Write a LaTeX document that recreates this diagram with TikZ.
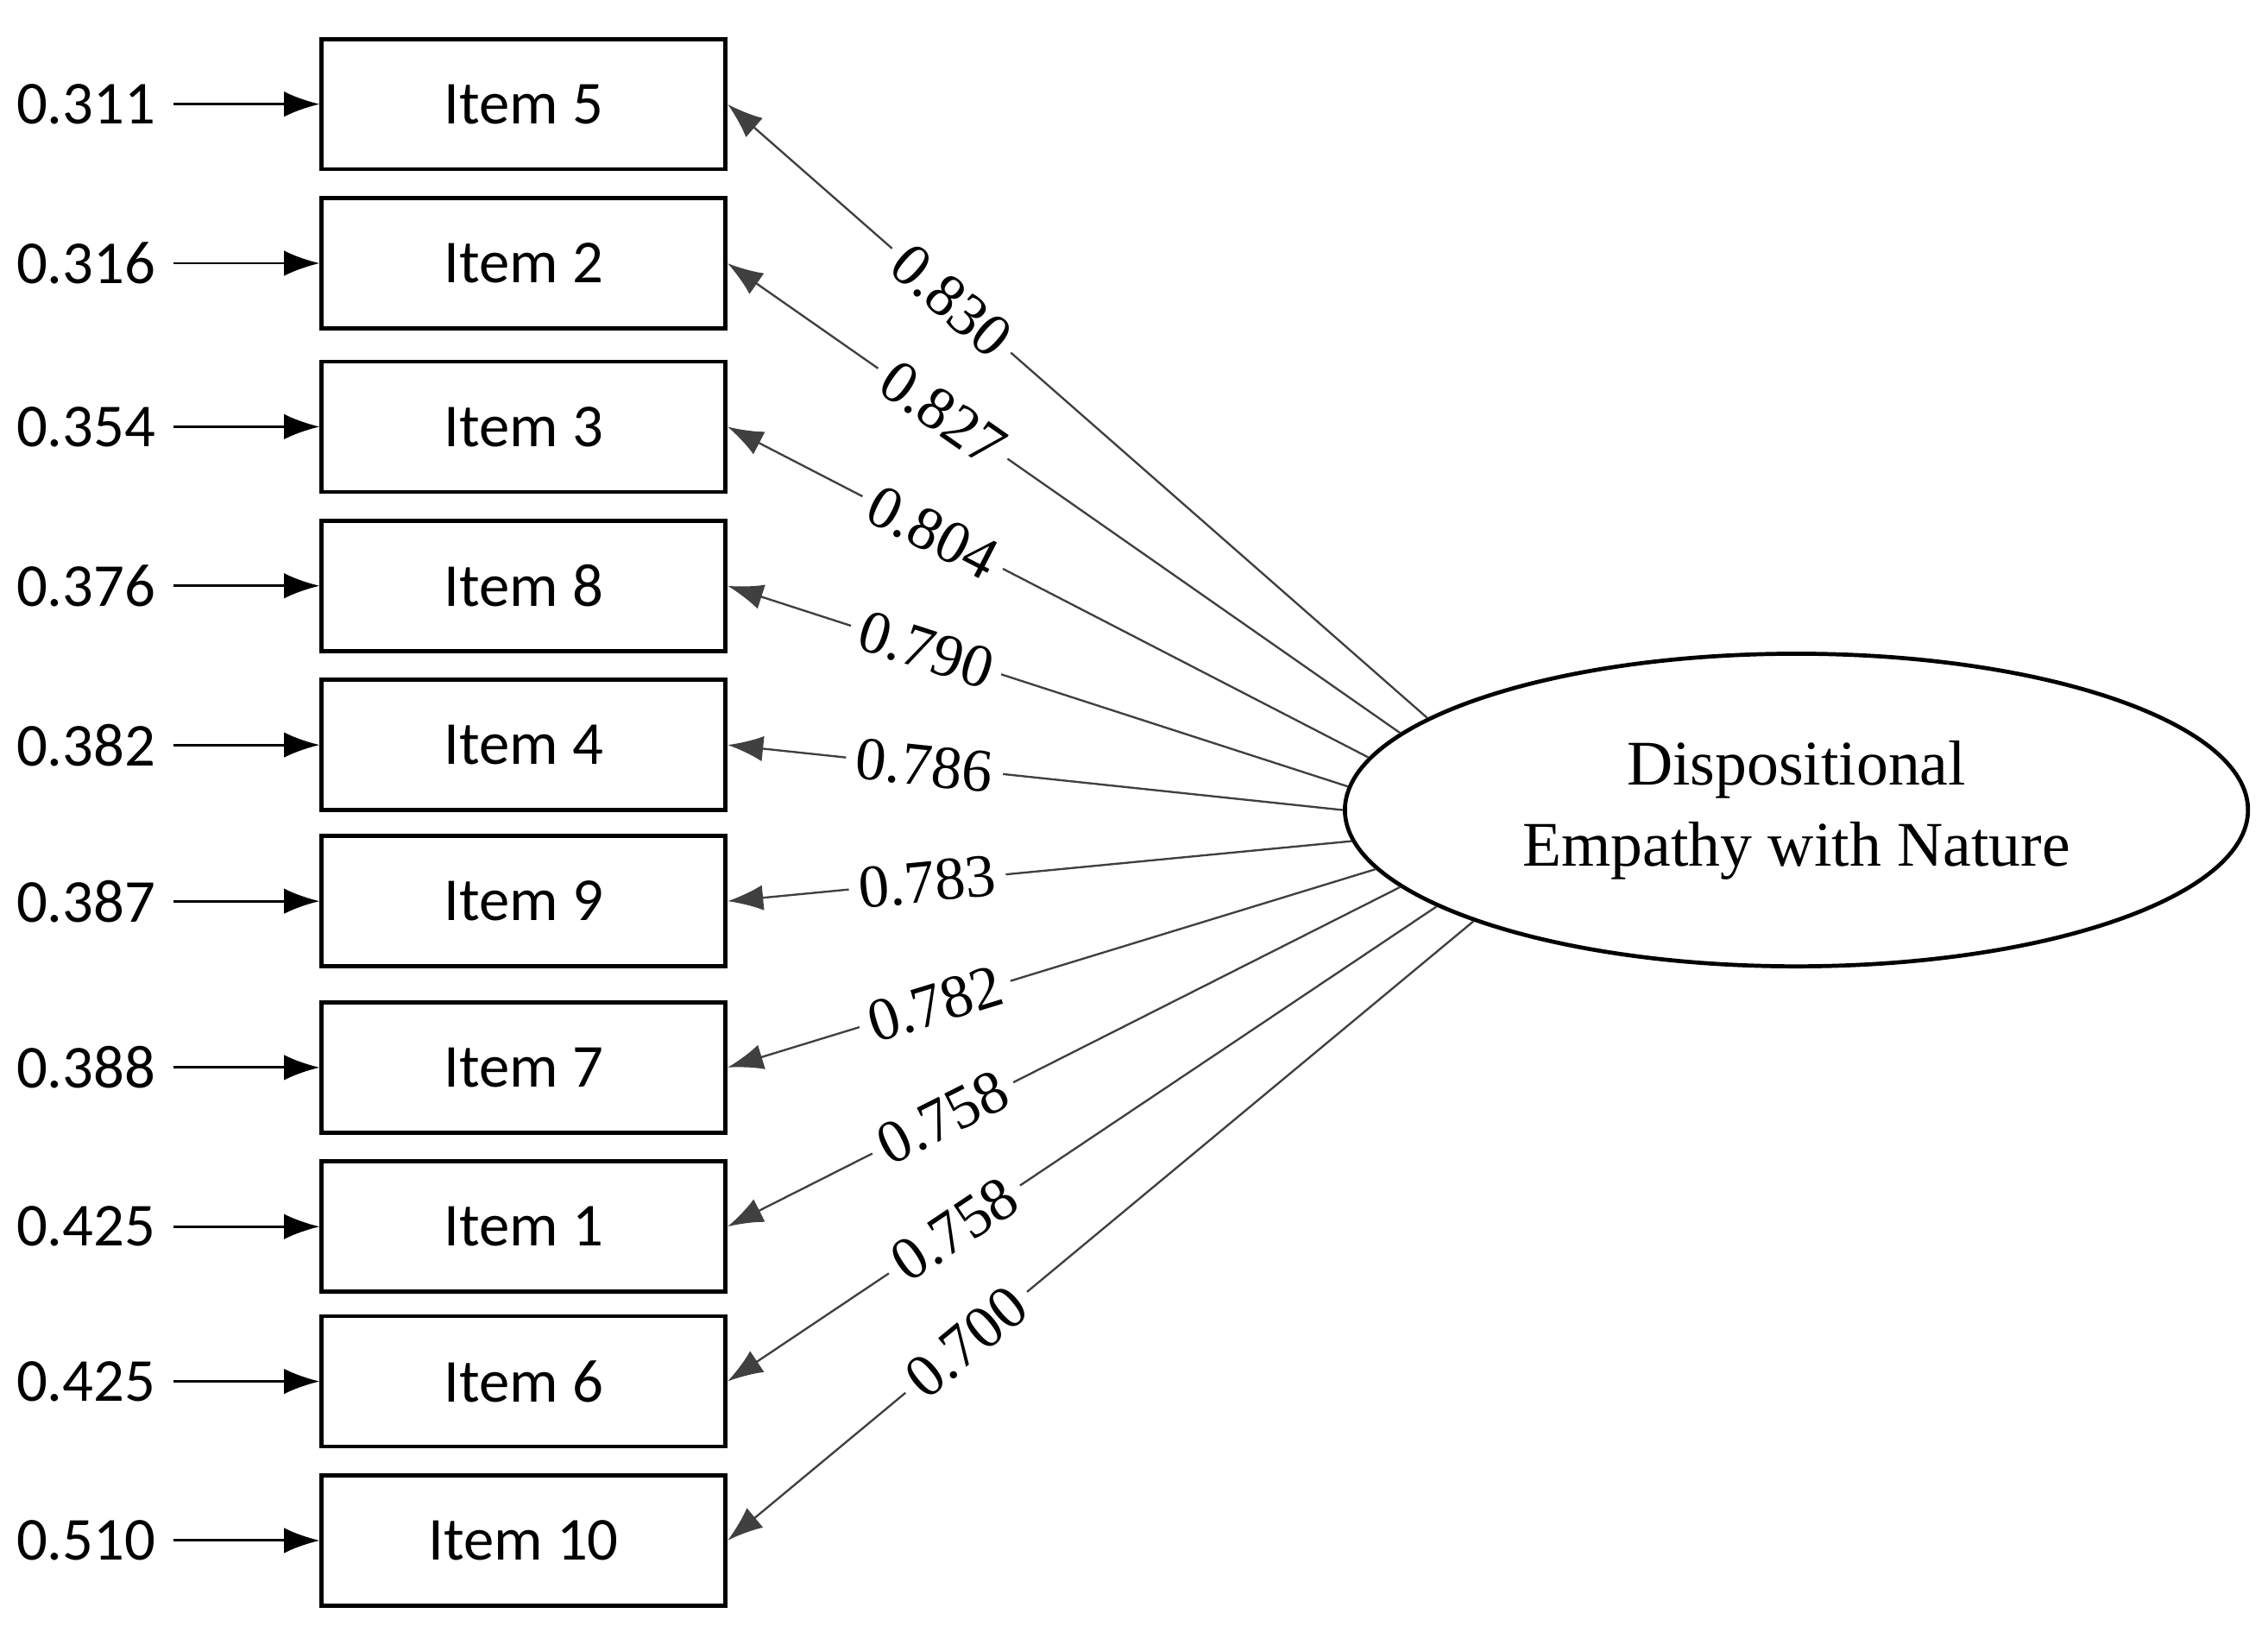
\documentclass[tikz,border=0pt]{standalone}
\usepackage{fontspec}
\setmainfont{Liberation Serif}
\newfontfamily\carl{Carlito}
\usetikzlibrary{arrows.meta,shapes.geometric}
\begin{document}
\begin{tikzpicture}[x=0.01cm,y=-0.01cm,
 box/.style={draw,line width=0.8pt,minimum width=2.79cm,minimum height=0.9cm,font=\carl\fontsize{12}{14}\selectfont},
 err/.style={font=\carl\fontsize{12}{14}\selectfont},
 ea/.style={-{Latex[length=7pt,width=5pt]},line width=0.5pt},
 ld/.style={-{Latex[length=7pt,width=5pt]},line width=0.4pt,draw=black!75},
 lab/.style={pos=0.68,sloped,fill=white,inner sep=2pt,font=\fontsize{12}{14}\selectfont}]
\useasboundingbox (0,0) rectangle (1568,1137);
\node[draw,ellipse,line width=0.8pt,minimum width=6.24cm,minimum height=2.16cm,align=center,font=\fontsize{12.5}{16}\selectfont] (ell) at (1242,560) {Dispositional\\Empathy with Nature};
\foreach \n/\y/\e/\v/\a in {5/72/0.311/0.830/166,2/182/0.316/0.827/169.7,3/295/0.354/0.804/173.3,8/405/0.376/0.790/177,4/515/0.382/0.786/180.7,9/623/0.387/0.783/184.3,7/738/0.388/0.782/188,1/848/0.425/0.758/191.7,6/955/0.425/0.758/195.3,10/1065/0.510/0.700/199}{
 \node[box] (b\n) at (362,\y) {Item \n};
 \node[err,anchor=east] (r\n) at (120,\y) {\e};
 \draw[ea] (r\n) -- (b\n);
 \draw[ld] (ell.\a) -- node[lab]{\v} (b\n.east);
}
\end{tikzpicture}
\end{document}
